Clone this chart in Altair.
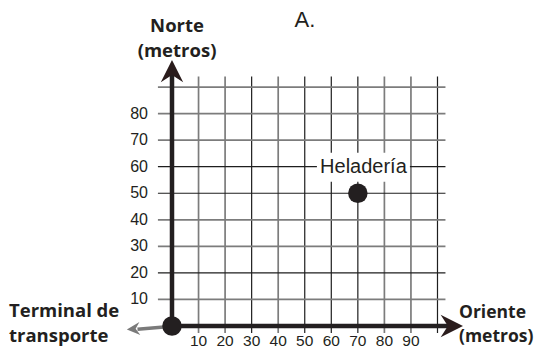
import altair as alt
import pandas as pd

# ---- data ----
x_ticks = [10, 20, 30, 40, 50, 60, 70, 80, 90]
y_ticks = [10, 20, 30, 40, 50, 60, 70, 80]
grid_x = [10, 20, 30, 40, 50, 60, 70, 80, 90, 100]
grid_x_tone = ["light", "light", "dark", "light", "dark", "dark", "dark", "light", "light", "dark"]
grid_y = [10, 20, 30, 40, 50, 60, 70, 80, 90]
grid_y_tone = ["light", "dark", "light", "light", "dark", "dark", "light", "light", "light"]
place_names = ["Terminal de transporte", "Heladería"]
place_x = [0, 70]
place_y = [0, 50]

INK = "#231f20"
FONT = "Liberation Sans"
BOLD = "Open Sans"

X = alt.Scale(domain=[-61.77, 136.35], nice=False, zero=False)
Y = alt.Scale(domain=[-9.04, 119.77], nice=False, zero=False)

def xe(field):
    return alt.X(field, type="quantitative", scale=X, axis=None)

def ye(field):
    return alt.Y(field, type="quantitative", scale=Y, axis=None)

tone_color = alt.Color("tone:N", scale=alt.Scale(domain=["light", "dark"], range=["#7c7c7c", "#1e1e1e"]), legend=None)
tone_width = alt.StrokeWidth("tone:N", scale=alt.Scale(domain=["light", "dark"], range=[1.7, 1.2]), legend=None)

vgrid = pd.DataFrame({"x": grid_x, "tone": grid_x_tone})
vgrid["y0"] = -2.6
vgrid["y1"] = 94
hgrid = pd.DataFrame({"y": grid_y, "tone": grid_y_tone})
hgrid["x0"] = -5.3
hgrid["x1"] = 103

v_lines = alt.Chart(vgrid).mark_rule().encode(
    x=xe("x"), y=ye("y0"), y2="y1", color=tone_color, strokeWidth=tone_width)
h_lines = alt.Chart(hgrid).mark_rule().encode(
    y=ye("y"), x=xe("x0"), x2="x1", color=tone_color, strokeWidth=tone_width)

# main axes (thick)
axes_df = pd.DataFrame({"x": [0, 0], "y": [0, 0], "x2": [107.5, 0], "y2": [0, 97.5]})
axes = alt.Chart(axes_df).mark_rule(color=INK, strokeWidth=4.5).encode(
    x=xe("x"), y=ye("y"), x2="x2", y2="y2")

UP = "M0,0L1,2L0,1.35L-1,2Z"
RIGHT = "M0,0L-2,-1L-1.35,0L-2,1Z"
LEFT = "M0,0L2,-1L1.35,0L2,1Z"
heads_df = pd.DataFrame({"x": [109.6, 0], "y": [0, 100.2], "dir": ["right", "up"]})
heads = alt.Chart(heads_df).mark_point(filled=True, opacity=1, size=500, color="#2a1c1c").encode(
    x=xe("x"), y=ye("y"),
    shape=alt.Shape("dir:N", scale=alt.Scale(domain=["right", "up"], range=[RIGHT, UP]), legend=None))

# grey arrow to the left of the origin
grey_df = pd.DataFrame({"x": [-3], "y": [-0.4], "x2": [-13], "y2": [-1.2]})
grey_body = alt.Chart(grey_df).mark_rule(color="#7a7a7a", strokeWidth=3.5).encode(
    x=xe("x"), y=ye("y"), x2="x2", y2="y2")
grey_head_df = pd.DataFrame({"x": [-17], "y": [-1.3]})
grey_head = alt.Chart(grey_head_df).mark_point(filled=True, opacity=1, size=170, color="#7a7a7a",
                                               shape=LEFT, angle=356).encode(x=xe("x"), y=ye("y"))

places = pd.DataFrame({"name": place_names, "x": place_x, "y": place_y})
dots = alt.Chart(places).mark_circle(size=380, color=INK, opacity=1).encode(x=xe("x"), y=ye("y"))

label_df = pd.DataFrame({"text": ["Heladería"], "x": [72.1], "y": [59.8]})
label_box = alt.Chart(label_df).mark_point(
    filled=True, opacity=1, color="white", size=8649, shape="M-1,-0.31L1,-0.31L1,0.31L-1,0.31Z"
).encode(x=xe("x"), y=ye("y"))
label = alt.Chart(label_df).mark_text(font=FONT, fontSize=20, color=INK, baseline="middle").encode(
    x=xe("x"), y=ye("y"), text="text:N")

xt = pd.DataFrame({"v": x_ticks, "zero": 0})
xt["t"] = xt["v"].astype(str)
x_labels = alt.Chart(xt).mark_text(font=FONT, fontSize=15.5, color=INK, dy=15, baseline="middle").encode(
    x=xe("v"), y=ye("zero"), text="t:N")
yt = pd.DataFrame({"v": y_ticks, "zero": 0})
yt["t"] = yt["v"].astype(str)
y_labels = alt.Chart(yt).mark_text(font=FONT, fontSize=16, color=INK, dx=-24, align="right",
                                   baseline="middle").encode(x=xe("zero"), y=ye("v"), text="t:N")

titles_df = pd.DataFrame({
    "text": ["Norte\n(metros)", "Oriente\n(metros)", "Terminal de\ntransporte"],
    "x": [1.9, 108.1, -61.4],
    "y": [110.7, 3.0, 3.4],
})
titles_c = alt.Chart(titles_df.iloc[[0]]).mark_text(
    font=BOLD, fontWeight="bold", fontSize=18.5, color=INK, lineBreak="\n", lineHeight=25,
    align="center", baseline="alphabetic").encode(x=xe("x"), y=ye("y"), text="text:N")
titles_o = alt.Chart(titles_df.iloc[[1]]).mark_text(
    font=BOLD, fontWeight="bold", fontSize=17.5, color=INK, lineBreak="\n", lineHeight=24,
    align="left", baseline="alphabetic").encode(x=xe("x"), y=ye("y"), text="text:N")
titles_l = alt.Chart(titles_df.iloc[[2]]).mark_text(
    font=BOLD, fontWeight="bold", fontSize=18.5, color=INK, lineBreak="\n", lineHeight=25,
    align="left", baseline="alphabetic").encode(x=xe("x"), y=ye("y"), text="text:N")

panel_df = pd.DataFrame({"text": ["A."], "x": [50.1], "y": [112.6]})
panel = alt.Chart(panel_df).mark_text(font=FONT, fontSize=22, color=INK, align="center",
                                      baseline="alphabetic").encode(x=xe("x"), y=ye("y"), text="text:N")

chart = alt.layer(
    v_lines, h_lines, grey_body, grey_head, axes, heads, dots, label_box, label,
    x_labels, y_labels, titles_c, titles_o, titles_l, panel
).properties(
    width=526, height=342, autosize=alt.AutoSizeParams(type="none"), padding=0
).configure_view(stroke=None)

chart.save("out.html", embed_options={"renderer": "svg", "actions": False})
